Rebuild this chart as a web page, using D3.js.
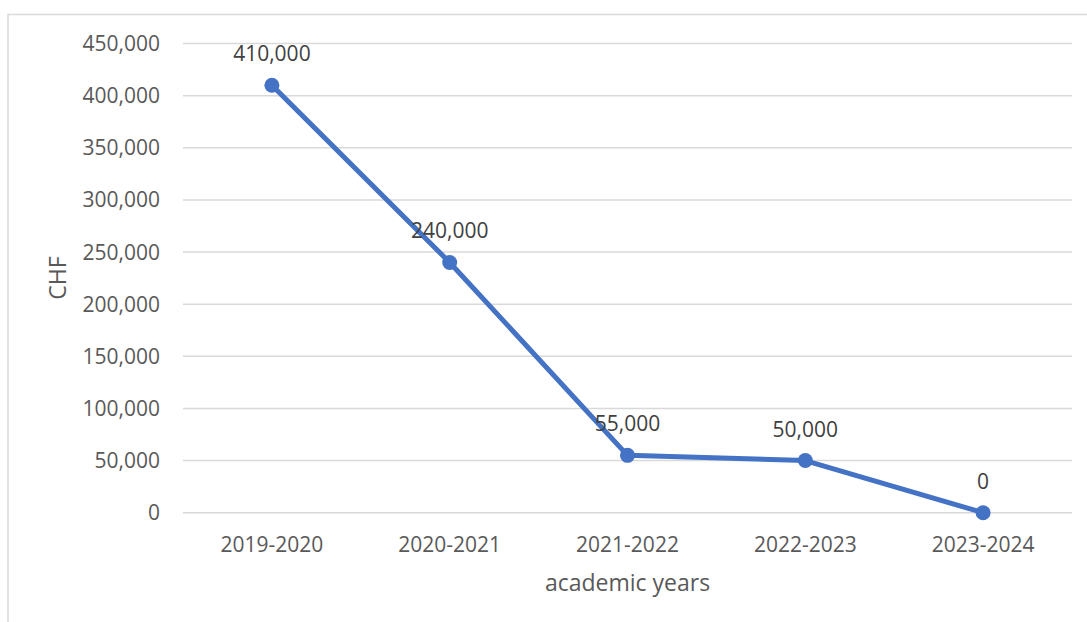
<!DOCTYPE html>
<html>
<head>
<meta charset="utf-8">
<script src="https://cdn.jsdelivr.net/npm/d3@7"></script>
<style>
  body { margin: 0; background: #fff; }
  svg { display: block; font-family: "Open Sans", sans-serif; }
</style>
</head>
<body>
<svg id="canvas" width="1087" height="622"></svg>
<script>
// data
const years = ["2019-2020", "2020-2021", "2021-2022", "2022-2023", "2023-2024"]
const amounts = [410000, 240000, 55000, 50000, 0]
const yTicks = [0, 50000, 100000, 150000, 200000, 250000, 300000, 350000, 400000, 450000]

const w = 1087, h = 622
const svg = d3.select("#canvas")

// chart frame (only top and left edges visible)
svg.append("path")
    .attr("d", "M8,622 L8,14.5 L1087,14.5")
    .attr("fill", "none")
    .attr("stroke", "#d9d9d9")
    .attr("stroke-width", 1.5)

const x = d3.scaleBand().domain(years).range([183, 1072])
const y = d3.scaleLinear().domain([0, 450000]).range([512.7, 43.5])
const fmt = d3.format(",")

// gridlines
svg.append("g").selectAll("line")
    .data(yTicks)
    .join("line")
    .attr("x1", 183).attr("x2", 1072)
    .attr("y1", d => y(d)).attr("y2", d => y(d))
    .attr("stroke", "#d9d9d9")
    .attr("stroke-width", 1.5)

// y tick labels
svg.append("g").selectAll("text")
    .data(yTicks)
    .join("text")
    .attr("x", 160)
    .attr("y", d => y(d) + 7.5)
    .attr("text-anchor", "end")
    .style("font-size", "21px")
    .attr("fill", "#595959")
    .text(d => fmt(d))

// x tick labels
svg.append("g").selectAll("text")
    .data(years)
    .join("text")
    .attr("x", d => x(d) + x.bandwidth() / 2)
    .attr("y", 551.5)
    .attr("text-anchor", "middle")
    .style("font-size", "21px")
    .attr("fill", "#595959")
    .text(d => d)

// axis titles
svg.append("text")
    .attr("x", (183 + 1072) / 2)
    .attr("y", 590.5)
    .attr("text-anchor", "middle")
    .style("font-size", "23px")
    .attr("fill", "#595959")
    .text("academic years")

svg.append("text")
    .attr("transform", "translate(66," + 278 + ") rotate(-90)")
    .attr("text-anchor", "middle")
    .style("font-size", "23px")
    .attr("fill", "#595959")
    .text("CHF")

// line + markers
const pts = years.map((d, i) => ({year: d, value: amounts[i]}))
const line = d3.line()
    .x(d => x(d.year) + x.bandwidth() / 2)
    .y(d => y(d.value))

svg.append("path")
    .datum(pts)
    .attr("d", line)
    .attr("fill", "none")
    .attr("stroke", "#4472c4")
    .attr("stroke-width", 5)
    .attr("stroke-linejoin", "round")

svg.append("g").selectAll("circle")
    .data(pts)
    .join("circle")
    .attr("cx", d => x(d.year) + x.bandwidth() / 2)
    .attr("cy", d => y(d.value))
    .attr("r", 7.5)
    .attr("fill", "#4472c4")

// data labels
svg.append("g").selectAll("text")
    .data(pts)
    .join("text")
    .attr("x", d => x(d.year) + x.bandwidth() / 2)
    .attr("y", d => y(d.value) - 24)
    .attr("text-anchor", "middle")
    .style("font-size", "21px")
    .attr("fill", "#404040")
    .text(d => fmt(d.value))
</script>
</body>
</html>
